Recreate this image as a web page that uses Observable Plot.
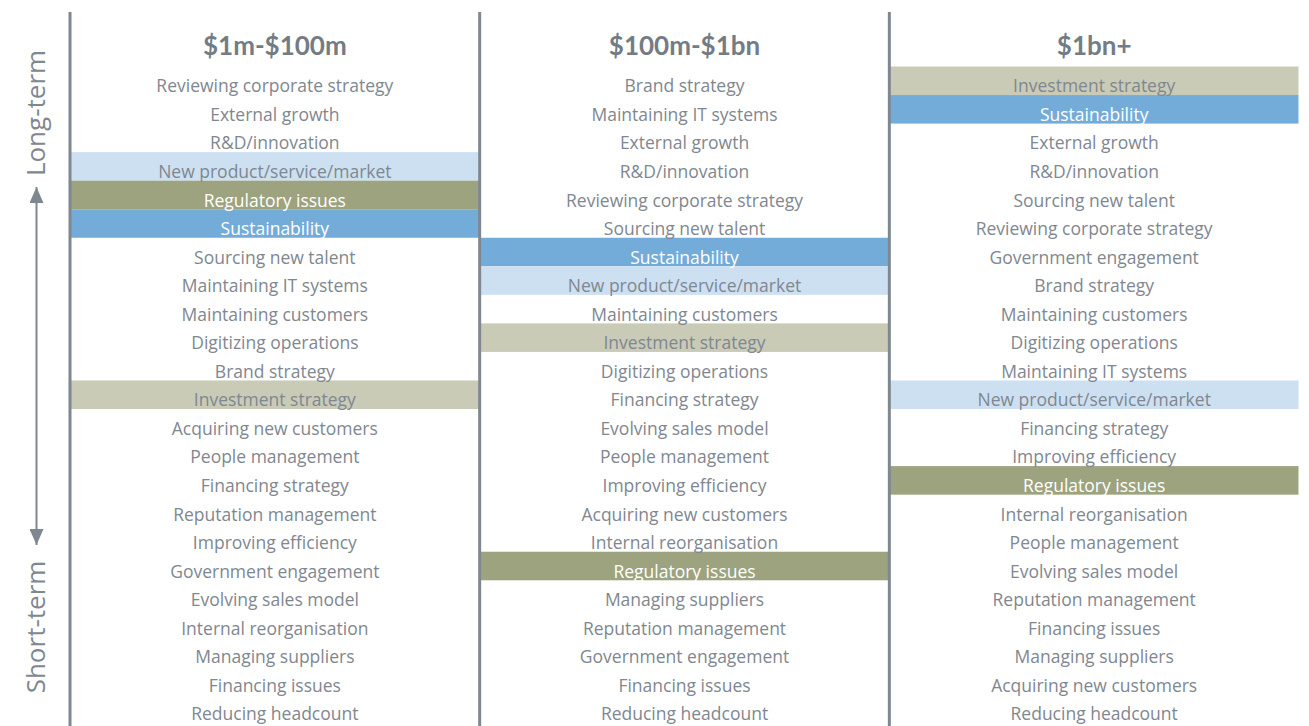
<!DOCTYPE html>
<html>
<head>
<meta charset="utf-8">
<script src="https://cdn.jsdelivr.net/npm/d3@7"></script>
<script src="https://cdn.jsdelivr.net/npm/@observablehq/plot@0.6"></script>
<style>
  html, body { margin: 0; padding: 0; background: #fff; }
  #chart svg { display: block; }
</style>
</head>
<body>
<div id="chart"></div>
<script>
// ---- Data ----
const columns = ["$1m-$100m", "$100m-$1bn", "$1bn+"];

const smallCompanies = [
  "Reviewing corporate strategy", "External growth", "R&D/innovation",
  "New product/service/market", "Regulatory issues", "Sustainability",
  "Sourcing new talent", "Maintaining IT systems", "Maintaining customers",
  "Digitizing operations", "Brand strategy", "Investment strategy",
  "Acquiring new customers", "People management", "Financing strategy",
  "Reputation management", "Improving efficiency", "Government engagement",
  "Evolving sales model", "Internal reorganisation", "Managing suppliers",
  "Financing issues", "Reducing headcount"
];

const midCompanies = [
  "Brand strategy", "Maintaining IT systems", "External growth",
  "R&D/innovation", "Reviewing corporate strategy", "Sourcing new talent",
  "Sustainability", "New product/service/market", "Maintaining customers",
  "Investment strategy", "Digitizing operations", "Financing strategy",
  "Evolving sales model", "People management", "Improving efficiency",
  "Acquiring new customers", "Internal reorganisation", "Regulatory issues",
  "Managing suppliers", "Reputation management", "Government engagement",
  "Financing issues", "Reducing headcount"
];

const largeCompanies = [
  "Investment strategy", "Sustainability", "External growth",
  "R&D/innovation", "Sourcing new talent", "Reviewing corporate strategy",
  "Government engagement", "Brand strategy", "Maintaining customers",
  "Digitizing operations", "Maintaining IT systems", "New product/service/market",
  "Financing strategy", "Improving efficiency", "Regulatory issues",
  "Internal reorganisation", "People management", "Evolving sales model",
  "Reputation management", "Financing issues", "Managing suppliers",
  "Acquiring new customers", "Reducing headcount"
];

const highlightTopics = ["Sustainability", "New product/service/market", "Regulatory issues", "Investment strategy"];
const highlightColors = ["#74acd9", "#cde0f1", "#9ca37e", "#c9cbb6"];
const darkTopics = ["Sustainability", "Regulatory issues"];
const sideLabels = ["Long-term", "Short-term"];

// ---- Build table ----
const rows = [smallCompanies, midCompanies, largeCompanies].flatMap((list, c) =>
  list.map((topic, rank) => ({col: columns[c], rank, topic}))
);
const ranks = d3.range(smallCompanies.length);

// ---- Layout ----
const W = 1309, H = 726;
const mL = 69.5, mR = 10.5, mT = 66.5, mB = 3;
const bw = (W - mL - mR) / columns.length;
const grey = "#7f8790";
const lineGrey = "#7f8891";
const headGrey = "#737c85";
const bodyFont = "'Open Sans', 'Noto Sans', sans-serif";

const arrowHead = (color) =>
  d3.create("svg:marker")
    .attr("viewBox", "-16 -7 16 14")
    .attr("markerUnits", "userSpaceOnUse")
    .attr("markerWidth", 16)
    .attr("markerHeight", 14)
    .attr("refX", 0)
    .attr("refY", 0)
    .attr("orient", "auto-start-reverse")
    .attr("fill", color)
    .attr("stroke", "none")
    .call((m) => m.append("path").attr("d", "M-16,-7L0,0L-16,7Z"))
    .node();

const chart = Plot.plot({
  width: W,
  height: H,
  marginLeft: mL,
  marginRight: mR,
  marginTop: mT,
  marginBottom: mB,
  style: {fontFamily: bodyFont, background: "#fff"},
  x: {type: "band", domain: columns, padding: 0, round: false, axis: null},
  y: {type: "band", domain: ranks, padding: 0, round: false, axis: null},
  color: {domain: highlightTopics, range: highlightColors},
  marks: [
    Plot.cell(rows.filter((d) => highlightTopics.includes(d.topic)), {
      x: "col", y: "rank", fill: "topic"
    }),
    Plot.text(rows.filter((d) => !darkTopics.includes(d.topic)), {
      x: "col", y: "rank", text: "topic", fill: grey, fontSize: 17.5, dy: 5.5,
      letterSpacing: "0.25px"
    }),
    Plot.text(rows.filter((d) => darkTopics.includes(d.topic)), {
      x: "col", y: "rank", text: "topic", fill: "#ffffff", fontSize: 17.5, dy: 5.5,
      letterSpacing: "0.25px"
    }),
    Plot.text(columns, {
      x: (d) => d, text: (d) => d, frameAnchor: "top", dy: -20,
      lineAnchor: "middle", textAnchor: "middle",
      fontFamily: "Lato, sans-serif", letterSpacing: "0.3px",
      fontSize: 26, fontWeight: "bold", fill: headGrey
    }),
    Plot.ruleX(columns, {
      x: (d) => d, dx: -bw / 2, insetTop: -54.5, insetBottom: -3,
      stroke: lineGrey, strokeWidth: 3
    }),
    Plot.text([sideLabels[0]], {
      frameAnchor: "top-left", text: (d) => d, rotate: -90,
      textAnchor: "middle", lineAnchor: "middle",
      dx: -33, dy: 46, fontSize: 26, fill: grey
    }),
    Plot.text([sideLabels[1]], {
      frameAnchor: "bottom-left", text: (d) => d, rotate: -90,
      textAnchor: "middle", lineAnchor: "middle",
      dx: -33, dy: -96.5, fontSize: 26, fill: grey
    }),
    Plot.ruleX([columns[0]], {
      x: (d) => d, dx: -bw / 2 - 33.5, insetTop: 120.5, insetBottom: 178,
      stroke: lineGrey, strokeWidth: 2,
      markerStart: arrowHead, markerEnd: arrowHead
    })
  ]
});

document.getElementById("chart").append(chart);
</script>
</body>
</html>
